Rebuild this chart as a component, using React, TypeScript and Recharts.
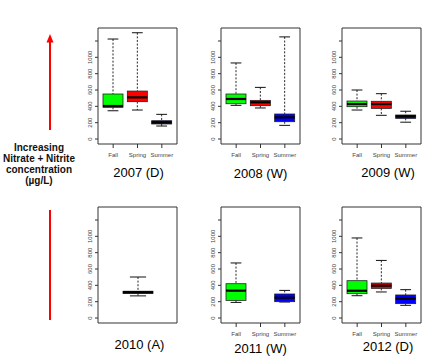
import React from "react";
import { ComposedChart, Bar, XAxis, YAxis } from "recharts";

// ---- data ----
const seasons = ["Fall", "Spring", "Summer"];
const panelTitles = ["2007 (D)", "2008 (W)", "2009 (W)", "2010 (A)", "2011 (W)", "2012 (D)"];
const yTicks = [0, 200, 400, 600, 800, 1000, 1200];
const yTickLabels = ["0", "200", "400", "600", "800", "1000", ""];
const seasonColors = ["#00ff00", "#ff0000", "#0000ff"];

// [min, q1, median, q3, max] per season (Fall, Spring, Summer)
const box2007 = [
  [346, 388, 404, 551, 1224],
  [355, 457, 510, 587, 1301],
  [159, 184, 204, 224, 302],
];
const box2008 = [
  [412, 432, 490, 551, 931],
  [380, 408, 449, 473, 632],
  [167, 212, 265, 306, 1250],
];
const box2009 = [
  [355, 396, 428, 465, 600],
  [290, 375, 428, 462, 555],
  [206, 253, 278, 294, 340],
];
const box2010 = [[271, 300, 316, 328, 502]];
const box2011 = [
  [191, 216, 335, 420, 674],
  null,
  [196, 200, 249, 294, 338],
];
const box2012 = [
  [273, 298, 334, 457, 980],
  [319, 363, 396, 428, 705],
  [155, 176, 237, 282, 347],
];

const FONT = "'Liberation Sans', Arial, sans-serif";

type Stat = number[] | null;

function buildRows(stats: Stat[], cats: string[], colors: string[]) {
  return stats.map((s, i) => ({
    season: cats[i],
    range: s ? [s[0], s[4]] : null,
    stat: s,
    color: colors[i],
  }));
}

const BoxShape = (props: any) => {
  const { x, y, width, height, payload } = props;
  if (!payload || !payload.stat) return null;
  const [mn, q1, md, q3, mx] = payload.stat;
  const span = mx - mn;
  const py = (v: number) => y + (height * (mx - v)) / span;
  const cx = x + width / 2;
  const cap = width * 0.27;
  return (
    <g>
      <line x1={cx} x2={cx} y1={py(mx)} y2={py(q3)} stroke="#111" strokeWidth={0.9} strokeDasharray="2 1.6" />
      <line x1={cx} x2={cx} y1={py(q1)} y2={py(mn)} stroke="#111" strokeWidth={0.9} strokeDasharray="2 1.6" />
      <line x1={cx - cap} x2={cx + cap} y1={py(mx)} y2={py(mx)} stroke="#111" strokeWidth={1} />
      <line x1={cx - cap} x2={cx + cap} y1={py(mn)} y2={py(mn)} stroke="#111" strokeWidth={1} />
      <rect x={x} y={py(q3)} width={width} height={Math.max(py(q1) - py(q3), 0.5)} fill={payload.color} stroke="#222" strokeWidth={0.8} />
      <line x1={x} x2={x + width} y1={py(md)} y2={py(md)} stroke="#000" strokeWidth={2.2} />
    </g>
  );
};

const YTick = (props: any) => {
  const { x, y, payload, index } = props;
  const label = yTickLabels[index] ?? "";
  if (!label) return null;
  return (
    <text
      x={x}
      y={y}
      transform={`rotate(-90, ${x}, ${y})`}
      textAnchor="middle"
      fontSize={6}
      fontFamily={FONT}
      fill="#444"
    >
      {label}
    </text>
  );
};

const FRAME_W = 79;
const FRAME_H = 116;
const YW = 24;
const XH = 22;

type PanelProps = {
  left: number;
  top: number;
  stats: Stat[];
  cats: string[];
  colors: string[];
  barSize: number;
  showX: boolean;
};

const Panel = ({ left, top, stats, cats, colors, barSize, showX }: PanelProps) => {
  const data = buildRows(stats, cats, colors);
  const W = YW + FRAME_W + 3;
  const H = 3 + FRAME_H + XH;
  return (
    <div style={{ position: "absolute", left: left - YW, top: top - 3, width: W, height: H }}>
      <ComposedChart width={W} height={H} data={data} margin={{ top: 2, right: 2, left: 0, bottom: 0 }} barCategoryGap={0}>
        <XAxis
          dataKey="season"
          type="category"
          height={XH}
          padding={{ left: 3, right: 3 }}
          tickSize={showX ? 4 : 0}
          tickLine={showX ? { stroke: "#333" } : false}
          tickMargin={5}
          axisLine={{ stroke: "#333" }}
          tick={showX ? { fontSize: 6, fill: "#444", fontFamily: FONT } : false}
          interval={0}
        />
        <XAxis
          xAxisId="top"
          dataKey="season"
          orientation="top"
          height={1}
          tick={false}
          tickLine={false}
          axisLine={{ stroke: "#333" }}
        />
        <YAxis
          type="number"
          domain={[-61, 1359]}
          ticks={yTicks}
          interval={0}
          allowDataOverflow
          width={YW}
          tickSize={3}
          tickMargin={3}
          axisLine={{ stroke: "#333" }}
          tickLine={{ stroke: "#333" }}
          tick={<YTick />}
        />
        <YAxis yAxisId="r" orientation="right" width={1} tick={false} tickLine={false} axisLine={{ stroke: "#333" }} domain={[0, 1]} />
        <Bar dataKey="range" barSize={barSize} isAnimationActive={false} shape={<BoxShape />} />
      </ComposedChart>
    </div>
  );
};

const colLefts = [98, 221, 342];
const rowTops = [28, 207];
const titlePos = [
  [138.5, 177],
  [260.5, 178],
  [388, 177],
  [139.5, 348.5],
  [260.5, 353],
  [388, 350.5],
];
const sideLabel = ["Increasing", "Nitrate + Nitrite", "concentration", "(µg/L)"];

export default function App() {
  return (
    <div style={{ position: "absolute", left: 0, top: 0, width: 436, height: 360, background: "#fff", overflow: "hidden" }}>
      <Panel left={colLefts[0]} top={rowTops[0]} stats={box2007} cats={seasons} colors={seasonColors} barSize={20} showX />
      <Panel left={colLefts[1]} top={rowTops[0]} stats={box2008} cats={seasons} colors={seasonColors} barSize={20} showX />
      <Panel left={colLefts[2]} top={rowTops[0]} stats={box2009} cats={seasons} colors={seasonColors} barSize={20} showX />
      <Panel left={colLefts[0]} top={rowTops[1]} stats={box2010} cats={[""]} colors={["#000"]} barSize={30} showX={false} />
      <Panel left={colLefts[1]} top={rowTops[1]} stats={box2011} cats={seasons} colors={seasonColors} barSize={20} showX />
      <Panel left={colLefts[2]} top={rowTops[1]} stats={box2012} cats={seasons} colors={seasonColors} barSize={20} showX />
      <svg width={436} height={360} style={{ position: "absolute", left: 0, top: 0, pointerEvents: "none" }}>
        <line x1={50} x2={50} y1={130} y2={41} stroke="#ff0000" strokeWidth={2} />
        <polygon points="50,34 46.5,42.5 53.5,42.5" fill="#ff0000" />
        <line x1={50} x2={50} y1={210} y2={320} stroke="#ff0000" strokeWidth={2} />
        {sideLabel.map((t, i) => (
          <text key={t} x={39} y={150.5 + i * 11} textAnchor="middle" fontSize={10} fontWeight="bold" fontFamily={FONT} fill="#111">
            {t}
          </text>
        ))}
        {panelTitles.map((t, i) => (
          <text key={t} x={titlePos[i][0]} y={titlePos[i][1]} textAnchor="middle" fontSize={13} fontFamily={FONT} fill="#000">
            {t}
          </text>
        ))}
      </svg>
    </div>
  );
}
